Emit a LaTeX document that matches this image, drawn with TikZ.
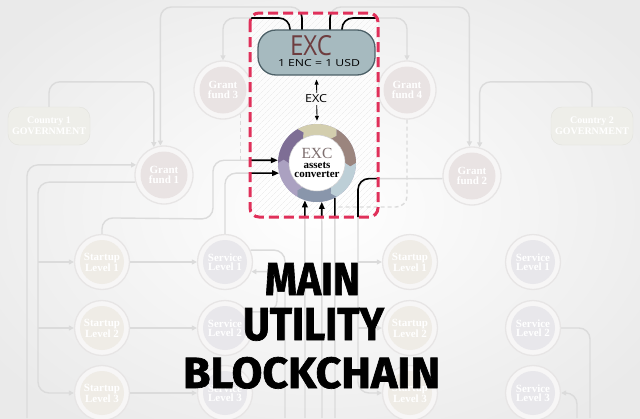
\documentclass[tikz,border=0pt]{standalone}
\usepackage{fontspec}
\usepackage{graphicx}
\setmainfont{Liberation Serif}
\newfontfamily\sansf{Open Sans}
\newfontfamily\titlef{Fira Sans}[BoldFeatures={FakeBold=1.5}]
\usetikzlibrary{arrows.meta,patterns.meta,calc}
\definecolor{bgA}{HTML}{EAEAEA}
\definecolor{conn}{HTML}{DBDBDB}
\definecolor{ringline}{HTML}{E7E5E5}
\definecolor{ringfill}{HTML}{F7F6F6}
\definecolor{grantfill}{HTML}{E9E3E3}
\definecolor{startfill}{HTML}{EFECE6}
\definecolor{servfill}{HTML}{E8E7EB}
\definecolor{govfill}{HTML}{EEEEE9}
\definecolor{redbox}{HTML}{E0305A}
\definecolor{pillfill}{HTML}{A6BABF}
\definecolor{pilldraw}{HTML}{4D6168}
\definecolor{excbrown}{HTML}{6E3D3F}
\definecolor{segA}{HTML}{D3CEAE}
\definecolor{segB}{HTML}{9B857E}
\definecolor{segC}{HTML}{BDCFD7}
\definecolor{segD}{HTML}{8996AB}
\definecolor{segE}{HTML}{ABA1C1}
\definecolor{segF}{HTML}{7E6E95}
\definecolor{convtext}{HTML}{7D6E6E}
\definecolor{boxbg}{HTML}{F8F8F8}
\tikzset{
  ringnode/.style 2 args={circle, inner sep=0pt, minimum size=#1, draw=ringline,
    line width=1.3, fill=ringfill, text=white, align=center,
    font=\bfseries\fontsize{11}{9.5}\selectfont,
    path picture={\fill[#2] (path picture bounding box.center) circle[radius=#1/2-5.5];}},
  grant/.style={ringnode={58}{grantfill}},
  startup/.style={ringnode={55}{startfill}},
  service/.style={ringnode={55}{servfill}},
  gov/.style={rectangle, rounded corners=11, minimum width=82, minimum height=38,
    fill=govfill, draw=govfill!95!black, text=white, align=center,
    font=\bfseries\fontsize{10}{10.5}\selectfont},
  fline/.style={draw=conn, line width=1.4, rounded corners=11},
  farrow/.style={fline, -{Triangle[length=5pt,width=5pt]}},
  fdash/.style={fline, dashed, dash pattern=on 4pt off 3pt},
  bline/.style={draw=black, line width=1.6, rounded corners=11},
  barrow/.style={bline, -{Triangle[length=7pt,width=5.5pt]}},
  pill/.style={rectangle, rounded corners=18, minimum width=117, minimum height=45,
    fill=pillfill, draw=pilldraw, line width=1.3},
  txt/.style={anchor=base, inner sep=0pt},
}
\def\pathA{(c1.north) -- ++(0,-25) -| (g1.110)}
\def\pathB{(p2) -- (302,7) -| (g1.97)}
\def\pathC{(p1) -- (290,18) -| (g3.north)}
\def\pathD{(p3) -- (330,7) -| (g2.95)}
\def\pathE{(p4) -- (342,18) -| (g4.north)}
\def\pathF{(c2.north) -- ++(0,-25) -| (g2.75)}
\def\pathI{(s1.north) -- ++(0,-16) -- (213,219) |- (conv.176)}
\def\pathJ{(sv1.north) |- (conv.195)}
\def\pathK{(g2.185) -| (358,300) |- (rs3.west)}
\def\pathL{(lb1) |- (g1.160)}
\def\pathM{(g1.194) -| (38,300) |- (s3.west)}
\def\pathN{(sv1.25) -| (nb1)}
\def\pathO{(sv2.35) -| (277,290) |- (sv1.340)}
\def\pathP{(rsv2.east) -| (rb1)}
\def\pathQ{(rb2) |- (rsv3.east)}
\def\pathG{(g3.306) -- (g3.306 |- conv.176)}
\def\pathH{(g4.south) |- (dj)}
\begin{document}
\begin{tikzpicture}[x=1pt,y=-1pt]
\useasboundingbox (0,0) rectangle (640,418);
\shade[inner color=white, outer color=bgA] (-80,-60) rectangle (720,478);

% faded nodes
\node[gov] (c1) at (49,126) {Country 1\\GOVERNMENT};
\node[gov] (c2) at (592,126) {Country 2\\GOVERNMENT};
\node[grant] (g1) at (164,175) {Grant\\fund 1};
\node[grant] (g3) at (223,90) {Grant\\fund 3};
\node[grant] (g4) at (407,90) {Grant\\fund 4};
\node[grant] (g2) at (472,176) {Grant\\fund 2};
\node[startup] (s1) at (102,262) {Startup\\Level 1};
\node[startup] (s2) at (102,328) {Startup\\Level 2};
\node[startup] (s3) at (102,393) {Startup\\Level 3};
\node[service] (sv1) at (225,262) {Service\\Level 1};
\node[service] (sv2) at (225,328) {Service\\Level 2};
\node[service] (sv3) at (225,393) {Service\\Level 3};
\node[startup] (rs1) at (410,262) {Startup\\Level 1};
\node[startup] (rs2) at (410,328) {Startup\\Level 2};
\node[startup] (rs3) at (410,393) {Startup\\Level 3};
\node[service] (rsv1) at (533,262) {Service\\Level 1};
\node[service] (rsv2) at (533,328) {Service\\Level 2};
\node[service] (rsv3) at (533,393) {Service\\Level 3};
\node[circle, minimum size=78, inner sep=0pt] (conv) at (317,163) {};

% connector ends
\coordinate (p1) at (290,30);
\coordinate (p2) at (302,30);
\coordinate (p3) at (330,30);
\coordinate (p4) at (342,30);
\coordinate (b1) at (305,418);
\coordinate (b2) at (322,418);
\coordinate (b3) at (335,418);
\coordinate (lb1) at (27,418);
\coordinate (nb1) at (285,418);
\coordinate (rb1) at (590,418);
\coordinate (rb2) at (577,418);
\coordinate (dj) at (335,207);
\coordinate (jl1) at (38,262);
\coordinate (jl2) at (38,328);
\coordinate (jr1) at (358,262);
\coordinate (jr2) at (358,328);

% faded connectors
\draw[farrow] \pathA;
\draw[farrow] \pathB;
\draw[farrow] \pathC;
\draw[farrow] \pathD;
\draw[farrow] \pathE;
\draw[farrow] \pathF;
\draw[farrow] \pathI;
\draw[farrow] \pathJ;
\draw[farrow] \pathK;
\draw[farrow] \pathL;
\draw[farrow] \pathM;
\draw[fline] \pathN;
\draw[farrow] \pathO;
\draw[fline] \pathP;
\draw[farrow] \pathQ;
\draw[fdash] \pathG;
\draw[farrow] (b1) -- (conv.252);
\draw[farrow] (b2) -- (conv.277);
\draw[fline] (b3) -- (conv.297);
\draw[farrow] (jl1) -- (s1.west);
\draw[farrow] (jl2) -- (s2.west);
\draw[farrow] (jr1) -- (rs1.west);
\draw[farrow] (jr2) -- (rs2.west);
\draw[farrow] (s1.east) -- (sv1.west);
\draw[farrow] (s2.east) -- (sv2.west);
\draw[farrow] (s3.east) -- (sv3.west);

% focus box fill
\fill[white, fill opacity=0.75, rounded corners=9] (250,13) rectangle (378,217);
\fill[pattern={Lines[angle=45,distance=4pt,line width=0.35pt]}, pattern color=gray!18, rounded corners=9] (250,13) rectangle (378,217);
\draw[fdash] \pathH;

% black parts inside the box
\begin{scope}
  \clip[rounded corners=9] (250,13) rectangle (378,217);
  \draw[bline] \pathB;
  \draw[bline] \pathC;
  \draw[bline] \pathD;
  \draw[bline] \pathE;
  \draw[barrow] \pathI;
  \draw[barrow] \pathJ;
  \draw[bline] \pathK;
  \draw[barrow] (b1) -- (conv.252);
  \draw[barrow] (b2) -- (conv.277);
  \draw[bline] (b3) -- (conv.297);
\end{scope}

% EXC pill
\node[pill] (exc) at (316.5,52.5) {};
\node[txt, text=excbrown] (et1) at (311,55) {\resizebox{42pt}{20pt}{\sansf EXC}};
\node[txt] (et2) at (319,66) {\resizebox{82pt}{7pt}{\sansf 1 ENC = 1 USD}};

% converter ring
\fill[segE!80!segD] (conv.center) circle[radius=39];
\foreach \a/\c in {240/segA,300/segB,0/segC,60/segD,120/segE,180/segF}{
  \fill[\c]
    ($(conv.center)+(\a:39)$) arc[start angle=\a, end angle=\a+60, radius=39]
    -- ($(conv.center)+(\a+66:33.5)$)
    -- ($(conv.center)+(\a+60:28)$) arc[start angle=\a+60, end angle=\a, radius=28]
    -- ($(conv.center)+(\a+6:33.5)$) -- cycle;
}
\fill[white, draw=gray!35, line width=0.5] (conv.center) circle[radius=28];
\node[txt, text=convtext, font=\fontsize{15.5}{15}\selectfont] (ct1) at (317,158) {EXC};
\node[txt, font=\bfseries\fontsize{11}{11}\selectfont] (ct2) at (317,168) {assets};
\node[txt, font=\bfseries\fontsize{11}{11}\selectfont] (ct3) at (317,177.5) {converter};

% EXC double arrow
\draw[line width=0.8, {Triangle[length=5pt,width=4pt]}-{Triangle[length=5pt,width=4pt]}, shorten <=4pt, shorten >=3pt] (exc.south) -- (conv.north);
\node[fill=boxbg, inner sep=1.5pt] (el) at (316,99) {\resizebox{22pt}{8pt}{\sansf EXC}};

% red dashed box
\draw[redbox, line width=3, dash pattern=on 10pt off 5pt, rounded corners=9] (250,13) rectangle (378,217);

% title
\node[txt] (t1) at (312.5,295) {\resizebox{95pt}{32pt}{\titlef\bfseries MAIN}};
\node[txt] (t2) at (313.5,340) {\resizebox{141pt}{32pt}{\titlef\bfseries UTILITY}};
\node[txt] (t3) at (311.5,388) {\resizebox{257pt}{31pt}{\titlef\bfseries BLOCKCHAIN}};
\end{tikzpicture}
\end{document}
